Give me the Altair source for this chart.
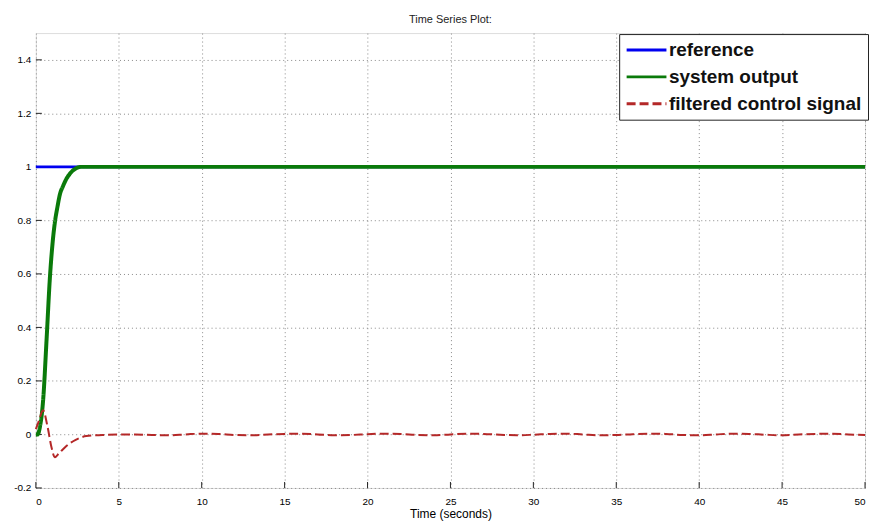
import altair as alt
import pandas as pd

# ---- data ----
ref_t = [0, 50]
ref_v = [1, 1]

out_t = [0, 0.1, 0.25, 0.44, 0.65, 0.84, 1.0, 1.14, 1.3, 1.44, 1.65, 1.84, 2.1, 2.44, 2.7, 5, 50]
out_v = [0, 0.0, 0.03, 0.13, 0.36, 0.58, 0.71, 0.79, 0.85, 0.895, 0.93, 0.955, 0.978, 0.995, 1.0, 1.0, 1.0]

ctl_t = [0, 0.15, 0.44, 0.7, 0.95, 1.14, 1.4, 1.84, 2.4, 3.04, 4, 5, 6, 7, 8, 9, 10, 11, 12, 13, 14, 15,
         16, 17, 18, 19, 20, 21, 22, 23, 24, 25, 26, 27, 28, 29, 30, 31, 32, 33, 34, 35, 36, 37, 38,
         39, 40, 41, 42, 43, 44, 45, 46, 47, 48, 49, 50]
ctl_v = [0.02, 0.045, 0.09, 0.03, -0.05, -0.085, -0.07, -0.043, -0.02, -0.006, -0.002, 0.0, 0.0, -0.002,
         -0.003, 0.0, 0.003, 0.002, -0.002, -0.003, 0.0, 0.002, 0.003, 0.0, -0.003, -0.002, 0.001,
         0.003, 0.002, -0.002, -0.003, 0.0, 0.003, 0.002, -0.001, -0.003, -0.001, 0.002, 0.003, 0.0,
         -0.003, -0.002, 0.001, 0.003, 0.002, -0.002, -0.003, 0.0, 0.003, 0.002, -0.001, -0.003, 0.0,
         0.002, 0.003, 0.0, -0.002]

series_names = ["reference", "system output", "filtered control signal"]
series_colors = ["#0000f0", "#0a7a0a", "#b42828"]

x_ticks = list(range(0, 51, 5))
y_ticks = [-0.2, 0, 0.2, 0.4, 0.6, 0.8, 1, 1.2, 1.4]

rows = []
for t, v in zip(ref_t, ref_v):
    rows.append({"t": t, "v": v, "series": series_names[0], "order": 0})
for t, v in zip(out_t, out_v):
    rows.append({"t": t, "v": v, "series": series_names[1], "order": 1})
for t, v in zip(ctl_t, ctl_v):
    rows.append({"t": t, "v": v, "series": series_names[2], "order": 2})
df = pd.DataFrame(rows)

W, H = 833, 457
FONT = "Liberation Sans"

xscale = alt.Scale(domain=[0, 50], nice=False, zero=False)
yscale = alt.Scale(domain=[-0.2, 1.5], nice=False, zero=False)

color = alt.Color(
    "series:N",
    scale=alt.Scale(domain=series_names, range=series_colors),
    sort=series_names,
    legend=alt.Legend(
        title=None,
        orient="none",
        legendX=586,
        legendY=1,
        symbolType="stroke",
        symbolSize=1600,
        symbolStrokeWidth=3,
        clipHeight=20,
        labelFontSize=19,
        labelFontWeight="bold",
        labelFont=FONT,
        labelColor="#111",
        labelLimit=400,
        strokeColor="#222",
        fillColor="white",
        padding=6,
        rowPadding=7,
        labelOffset=1,
    ),
)

dash = alt.StrokeDash(
    "series:N",
    scale=alt.Scale(domain=series_names, range=[[1, 0], [1, 0], [9, 4]]),
    legend=None,
)

x_enc = alt.X("t:Q", scale=xscale, title="Time (seconds)",
              axis=alt.Axis(values=x_ticks, grid=True, gridDash=[1, 3], gridColor="#888",
                            tickSize=0, labelPadding=9, domain=False,
                            titleFontWeight="normal", titleFontSize=12, titlePadding=2))
y_enc = alt.Y("v:Q", scale=yscale, title=None,
              axis=alt.Axis(values=y_ticks, grid=True, gridDash=[1, 3], gridColor="#888",
                            tickSize=0, labelPadding=5, domain=False,
                            labelExpr="toString(round(datum.value*10)/10)"))

base = alt.Chart(df).encode(x=x_enc, y=y_enc, color=color, strokeDash=dash, detail="series:N")

ref_line = base.transform_filter(alt.datum.series == series_names[0]).mark_line(strokeWidth=3)
out_line = base.transform_filter(alt.datum.series == series_names[1]).mark_line(
    strokeWidth=4, interpolate="monotone")
ctl_line = base.transform_filter(alt.datum.series == series_names[2]).mark_line(
    strokeWidth=2, interpolate="monotone")

xt = pd.DataFrame({"t": x_ticks})
yt = pd.DataFrame({"v": y_ticks})
xtick_marks = alt.Chart(xt).mark_rule(color="#222", strokeWidth=1).encode(
    x=alt.X("t:Q", scale=xscale), y=alt.value(H), y2=alt.value(H - 6))
ytick_marks = alt.Chart(yt).mark_rule(color="#222", strokeWidth=1).encode(
    y=alt.Y("v:Q", scale=yscale), x=alt.value(0), x2=alt.value(6))

chart = alt.layer(xtick_marks, ytick_marks, ref_line, out_line, ctl_line).properties(
    width=W, height=H,
    title=alt.TitleParams("Time Series Plot:", fontSize=11, font=FONT, fontWeight="normal",
                          color="#222", offset=8),
    padding={"left": 28, "top": 24, "right": 5, "bottom": 34},
    autosize=alt.AutoSizeParams(type="none"),
).configure_view(stroke="#222", strokeWidth=1.2).configure_axis(
    labelFont=FONT, labelFontSize=12, labelColor="#222",
    titleFont=FONT, titleColor="#222",
).configure(background="white")

chart.save("out.html", embed_options={"renderer": "svg", "actions": False})
